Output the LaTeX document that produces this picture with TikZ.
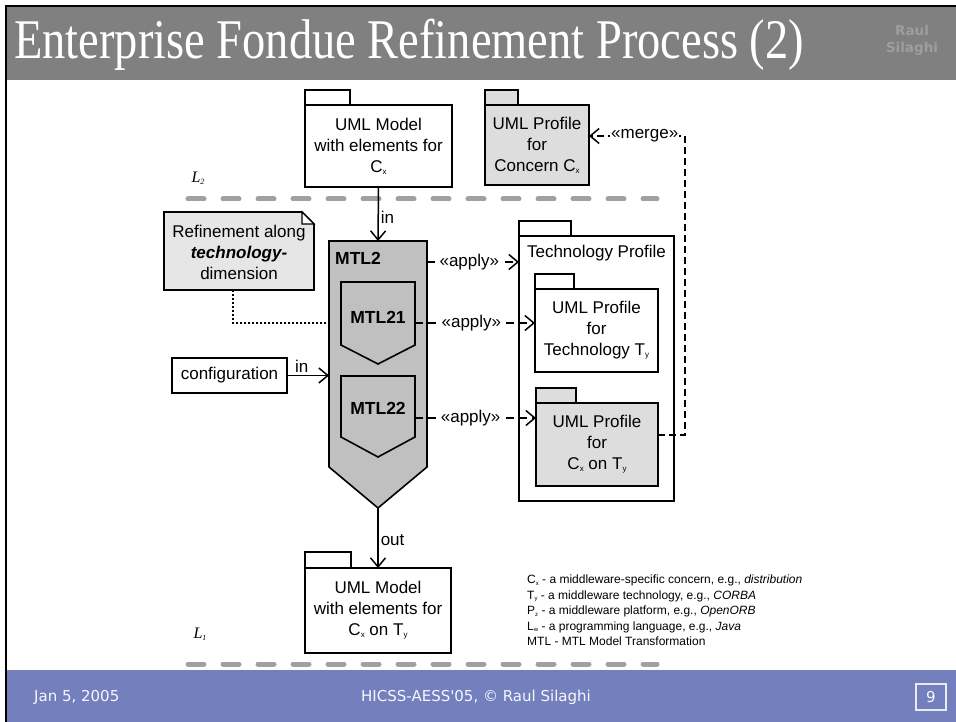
\documentclass[tikz,border=0pt]{standalone}
\usepackage{fontspec}
\setmainfont{Liberation Sans}
\newfontfamily\titlefont[FakeStretch=0.83]{Liberation Serif}
\newfontfamily\lserif{Liberation Serif}
\newfontfamily\footfont{DejaVu Sans}
\usetikzlibrary{arrows.meta,calc}
\definecolor{titlegray}{RGB}{128,128,128}
\definecolor{footblue}{RGB}{116,128,190}
\definecolor{mtlgray}{RGB}{192,192,192}
\definecolor{pkggray}{RGB}{221,221,221}
\definecolor{notegray}{RGB}{230,230,230}
\definecolor{levelgray}{RGB}{160,160,160}
\definecolor{markgray}{RGB}{158,158,158}
\newcommand\dsize{\fontsize{17}{21}\selectfont}
\newcommand\sbs[1]{\raisebox{-2pt}{\fontsize{8}{8}\selectfont #1}}
\newcommand\lsb[1]{\raisebox{-1.5pt}{\fontsize{6}{6}\selectfont #1}}
\begin{document}
\begin{tikzpicture}[x=1pt,y=-1pt,
  pkg/.style={draw, line width=1.6pt, outer sep=0pt, inner sep=0pt, align=center, font=\dsize},
  tabline/.style={draw, line width=1.6pt},
  body/.style={draw=none, outer sep=0pt, inner sep=0pt},
  mtlshape/.style={draw, line width=1.6pt, fill=mtlgray},
  arr/.style={line width=1.5pt, -{Straight Barb[length=9pt,width=15pt,line width=1.5pt]}},
  dasharr/.style={arr, dash pattern=on 8pt off 5pt},
  dotline/.style={line width=1.4pt, dash pattern=on 2pt off 2pt},
  lab/.style={fill=white, inner sep=1pt, font=\dsize},
  elab/.style={inner sep=2pt, font=\dsize},
  level/.style={draw=levelgray, line width=5pt, line cap=round, dash pattern=on 16pt off 19pt},
  boldlab/.style={font=\fontsize{17.5}{21}\selectfont\bfseries, inner sep=0pt},
  foott/.style={text=white!94!footblue, font=\footfont\fontsize{15}{17}\selectfont, inner sep=0pt}
]
\useasboundingbox (0,0) rectangle (956,722);
\fill[white] (0,0) rectangle (956,722);
% slide frame
\fill[titlegray] (7,7) rectangle (956,80);
\fill[footblue] (7,670) rectangle (956,722);
\draw[line width=2.5pt] (5,6) -- (956,6);
\draw[line width=2pt] (6,5) -- (6,722);
\node[anchor=west, text=white, font=\titlefont\fontsize{56}{60}\selectfont, inner sep=0pt] (title) at (14,45) {Enterprise Fondue Refinement Process (2)};
\node[text=markgray, font=\footfont\bfseries\fontsize{13.5}{17}\selectfont, inner sep=0pt, align=center] (mark) at (912,40) {Raul\\Silaghi};
\node[foott, anchor=west] (date) at (34,697) {Jan 5, 2005};
\node[foott] (conf2) at (476,697) {HICSS-AESS'05, \textcopyright{} Raul Silaghi};
\node[foott, draw=white!85!footblue, line width=1.3pt, minimum width=30pt, minimum height=26pt] (pg) at (931,697) {9};
% level lines
\coordinate (l2a) at (188,199); \coordinate (l2b) at (657,199);
\coordinate (l1a) at (188,664); \coordinate (l1b) at (657,664);
\draw[level] (l2a) -- (l2b);
\draw[level] (l1a) -- (l1b);
\node[font=\lserif\itshape\fontsize{16}{18}\selectfont, inner sep=0pt] (L2) at (198,178) {L\sbs{2}};
\node[font=\lserif\itshape\fontsize{16}{18}\selectfont, inner sep=0pt] (L1) at (200,634) {L\sbs{1}};
% packages
\node[pkg, minimum width=147pt, minimum height=82pt] (m1) at (378.5,146) {UML Model\\with elements for\\C\sbs{x}};
\draw[tabline] (m1.north west) rectangle ++(45,-15);
\node[pkg, fill=pkggray, minimum width=104pt, minimum height=80pt] (p2) at (537,145) {UML Profile\\for\\Concern C\sbs{x}};
\draw[tabline, fill=pkggray] (p2.north west) rectangle ++(33,-15);
\node[pkg, minimum width=155pt, minimum height=265pt] (tp) at (596.5,368.5) {};
\draw[tabline] (tp.north west) rectangle ++(52,-15);
\node[font=\dsize, inner sep=0pt] (tplab) at (596.5,253) {Technology Profile};
\node[pkg, minimum width=123pt, minimum height=83pt] (tp2) at (596.5,330.5) {UML Profile\\for\\Technology T\sbs{y}};
\draw[tabline] (tp2.north west) rectangle ++(39,-15);
\node[pkg, fill=pkggray, minimum width=122pt, minimum height=83pt] (p3) at (597,444.5) {UML Profile\\for\\C\sbs{x} on T\sbs{y}};
\draw[tabline, fill=pkggray] (p3.north west) rectangle ++(40,-15);
\node[pkg, minimum width=146pt, minimum height=85pt] (m3) at (378,610.5) {UML Model\\with elements for\\C\sbs{x} on T\sbs{y}};
\draw[tabline] (m3.north west) rectangle ++(46,-16);
\node[pkg, minimum width=115pt, minimum height=35pt] (conf) at (229.5,375.5) {configuration};
% note
\node[body, minimum width=150pt, minimum height=78pt] (note) at (239,251) {};
\filldraw[line width=1.6pt, fill=notegray] (note.north west) -- ($(note.north east)+(-12,0)$) -- ($(note.north east)+(0,12)$) -- (note.south east) -- (note.south west) -- cycle;
\draw[line width=1.2pt, fill=white] ($(note.north east)+(-12,0)$) -- ++(0,12) -- ++(12,0) -- cycle;
\node[font=\dsize, align=center, inner sep=0pt] (notelab) at (239,252) {Refinement along\\\textbf{\textit{technology-}}\\dimension};
% MTL shapes
\node[body, minimum width=98pt, minimum height=226pt] (mtl2) at (378,354) {};
\filldraw[mtlshape] (mtl2.north west) -- (mtl2.north east) -- (mtl2.south east) -- ($(mtl2.south)+(0,41)$) coordinate (mtl2tip) -- (mtl2.south west) -- cycle;
\node[boldlab, anchor=west] (mtl2lab) at (335,258) {MTL2};
\node[body, minimum width=74pt, minimum height=63pt] (mtl21) at (378,313.5) {};
\filldraw[mtlshape] (mtl21.north west) -- (mtl21.north east) -- (mtl21.south east) -- ($(mtl21.south)+(0,19)$) -- (mtl21.south west) -- cycle;
\node[boldlab] (mtl21lab) at (378,317) {MTL21};
\node[body, minimum width=74pt, minimum height=61pt] (mtl22) at (378,406.5) {};
\filldraw[mtlshape] (mtl22.north west) -- (mtl22.north east) -- (mtl22.south east) -- ($(mtl22.south)+(0,20)$) -- (mtl22.south west) -- cycle;
\node[boldlab] (mtl22lab) at (378,408) {MTL22};
% connectors
\draw[arr] (m1.south) -- (mtl2.north) node[elab, pos=0.57, right] {in};
\draw[arr] (conf.east) -- (conf.east -| mtl2.west) node[elab, pos=0.35, above] {in};
\draw[arr] (mtl2tip) -- (m3.north) node[elab, pos=0.53, right] {out};
\coordinate (a1) at (427,262);
\coordinate (a2) at (415,323);
\coordinate (a3) at (415,418);
\draw[dasharr] (a1) -- (a1 -| tp.west) node[lab, pos=0.46] {«apply»};
\draw[dasharr] (a2) -- (a2 -| tp2.west) node[lab, pos=0.47] {«apply»};
\draw[dasharr] (a3) -- (a3 -| p3.west) node[lab, pos=0.46] {«apply»};
\coordinate (mgs) at (658,435);
\coordinate (mge) at (589,136);
\draw[dasharr, dash pattern=on 7pt off 4pt] (mgs) -- ++(27,0) |- (mge) node[lab, pos=0.71] {«merge»};
\coordinate (nt) at (233,290);
\draw[dotline] (nt) |- (mtl2.west |- a2);
% legend
\node[anchor=north west, align=left, inner sep=0pt, font=\fontsize{12}{15.5}\selectfont] (legend) at (527,575) {C\lsb{x} - a middleware-specific concern, e.g., \textit{distribution}\\T\lsb{y} - a middleware technology, e.g., \textit{CORBA}\\P\lsb{z} - a middleware platform, e.g., \textit{OpenORB}\\L\lsb{w} - a programming language, e.g., \textit{Java}\\MTL - MTL Model Transformation};
\end{tikzpicture}
\end{document}
